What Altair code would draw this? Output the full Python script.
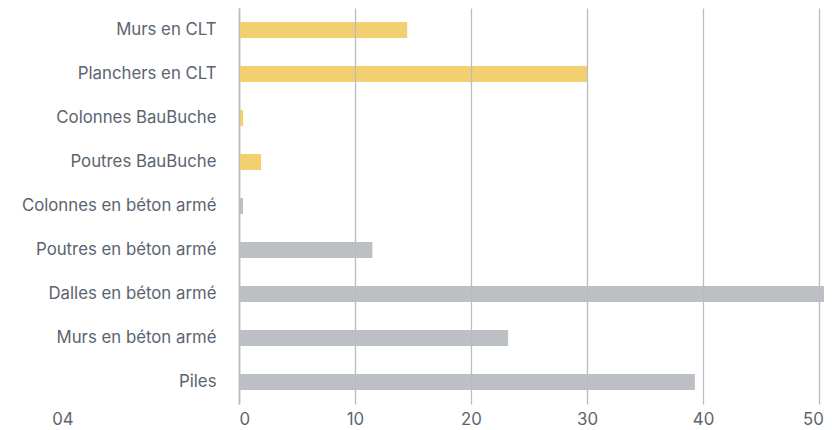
import altair as alt
import pandas as pd

categories = ["Murs en CLT", "Planchers en CLT", "Colonnes BauBuche", "Poutres BauBuche",
              "Colonnes en béton armé", "Poutres en béton armé", "Dalles en béton armé",
              "Murs en béton armé", "Piles"]
values = [14.5, 30.0, 0.35, 1.9, 0.35, 11.5, 54.0, 23.2, 39.3]
groups = ["bois", "bois", "bois", "bois", "béton", "béton", "béton", "béton", "béton"]
x_ticks = [0, 10, 20, 30, 40, 50]
corner_label = "04"

df = pd.DataFrame({"cat": categories, "val": values, "grp": groups})

font = "Inter"
fs = 16.8
label_color = "#5a646f"

bars = alt.Chart(df).mark_bar(clip=True).encode(
    y=alt.Y("cat:N", sort=categories,
            scale=alt.Scale(paddingInner=0.636, paddingOuter=0.318),
            axis=alt.Axis(title=None, ticks=False, labelPadding=23, labelFontSize=fs,
                          labelLimit=300,
                          labelColor=label_color, labelFont=font, domainColor="#9ea4ab",
                          domainWidth=1.5, grid=False)),
    x=alt.X("val:Q", scale=alt.Scale(domain=[0, 50.43], nice=False),
            axis=alt.Axis(title=None, values=x_ticks, ticks=False, labelPadding=7,
                          labelFontSize=fs, labelColor=label_color, labelFont=font,
                          labelOffset=alt.condition("datum.value == 50", alt.value(-6), alt.value(0)),
                          domain=False, grid=True, gridColor="#b9bdc3", gridWidth=1.3,
                          zindex=1)),
    color=alt.Color("grp:N", scale=alt.Scale(domain=["bois", "béton"],
                                             range=["#f2d06f", "#bcc0c5"]), legend=None),
)

corner = alt.Chart(pd.DataFrame({"t": [corner_label]})).mark_text(
    font=font, fontSize=fs, color=label_color, align="center", baseline="middle"
).encode(text="t:N", x=alt.value(-176), y=alt.value(412))

chart = alt.layer(bars, corner).properties(
    width=585, height=396,
    padding={"left": 231, "top": 0, "right": 0, "bottom": 26},
    autosize=alt.AutoSizeParams(type="none"),
).configure_view(stroke=None)

chart.save("out.html", embed_options={"renderer": "svg", "actions": False})
